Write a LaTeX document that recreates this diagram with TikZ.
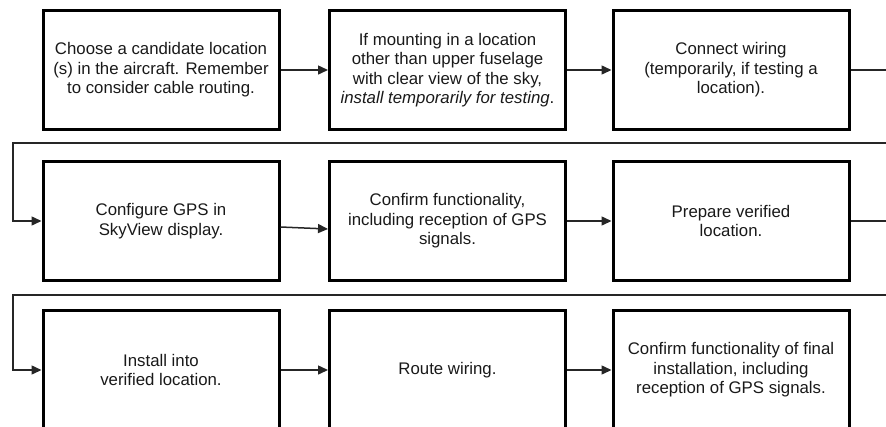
\documentclass[tikz,border=0pt]{standalone}
\usepackage{fontspec}
\setmainfont{Liberation Sans}
\usetikzlibrary{arrows.meta}
\begin{document}
\begin{tikzpicture}[x=1pt,y=-1pt,
  box/.style={draw=black, line width=3pt, minimum width=236pt, minimum height=119pt,
    align=center, inner sep=0pt, font=\fontsize{16.8}{19.5}\selectfont, text=black!90},
  flow/.style={line width=1.5pt, draw=black!85, -{Triangle[length=10pt,width=9pt]}},
  link/.style={line width=1.5pt, draw=black!85}]
\clip (0,0) rectangle (886,426);
\useasboundingbox (0,0) rectangle (886,426);

\node[box] (b1) at (161,70) {Choose a candidate location\\(s) in the aircraft. Remember\\to consider cable routing.};
\node[box] (b2) at (447.5,70) {If mounting in a location\\other than upper fuselage\\with clear view of the sky,\\\textit{install temporarily for testing}.};
\node[box] (b3) at (731,70) {Connect wiring\\(temporarily, if testing a\\location).};
\node[box] (b4) at (161,221) {Configure GPS in\\SkyView display.};
\node[box] (b5) at (447.5,221) {Confirm functionality,\\including reception of GPS\\signals.};
\node[box] (b6) at (731,221) {Prepare verified\\location.};
\node[box] (b7) at (161,370) {Install into\\verified location.};
\node[box] (b8) at (447.5,370) {Route wiring.};
\node[box] (b9) at (731,370) {Confirm functionality of final\\installation, including\\reception of GPS signals.};

\coordinate (t1) at (900,143);
\coordinate (l1) at (13,143);
\coordinate (t2) at (900,295);
\coordinate (l2) at (13,295);

\draw[flow] (b1) -- (b2);
\draw[flow] (b2) -- (b3);
\draw[flow] (b3.east) -| (t1) -- (l1) |- (b4.west);
\draw[flow] ([yshift=-6pt]b4.east) -- ([yshift=-8pt]b5.west);
\draw[flow] (b5) -- (b6);
\draw[flow] (b6.east) -| (t2) -- (l2) |- (b7.west);
\draw[flow] (b7) -- (b8);
\draw[flow] (b8) -- (b9);
\end{tikzpicture}
\end{document}
